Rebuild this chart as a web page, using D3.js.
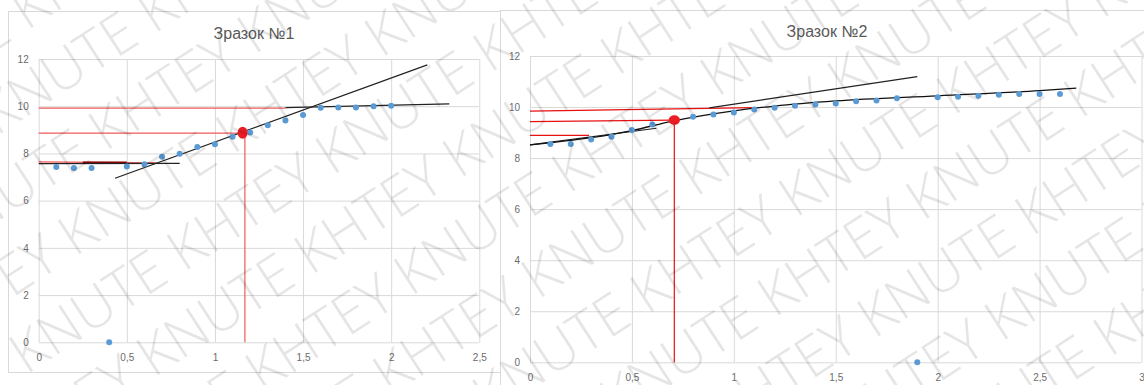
<!DOCTYPE html>
<html>
<head>
<meta charset="utf-8">
<script src="https://cdn.jsdelivr.net/npm/d3@7"></script>
<style>
  body { margin: 0; background: #fff; }
  svg { display: block; }
  .tick text { font-family: "Liberation Sans", Arial, sans-serif; font-size: 10px; fill: #6b6b6b; }
  .title { font-family: "Liberation Sans", Arial, sans-serif; font-size: 16px; fill: #595959; }
  .mark { font-family: "Open Sans", "Noto Sans", sans-serif; font-weight: 300; font-size: 56px; fill: #000; fill-opacity: 0.1; }
</style>
</head>
<body>
<div id="chart"></div>
<script>
// tick values
const xTicks1 = [0, 0.5, 1, 1.5, 2, 2.5]
const xTicks2 = [0, 0.5, 1, 1.5, 2, 2.5, 3]
const yTicks = [0, 2, 4, 6, 8, 10, 12]

// sample 1 measured points
const s1x = [0.1, 0.2, 0.3, 0.4, 0.5, 0.6, 0.7, 0.8, 0.9, 1.0, 1.1, 1.2, 1.3, 1.4, 1.5, 1.6, 1.7, 1.8, 1.9, 2.0]
const s1y = [7.43, 7.38, 7.38, 0, 7.45, 7.54, 7.86, 7.99, 8.27, 8.39, 8.71, 8.89, 9.19, 9.39, 9.63, 9.93, 9.95, 9.95, 10.0, 10.02]
// sample 1 construction lines [x1, y1, x2, y2]
const s1Red = [
  [0, 9.92, 1.4, 9.92],
  [0, 8.86, 1.157, 8.86],
  [0, 7.64, 0.67, 7.6],
  [1.17, 8.86, 1.17, 0]
]
const s1DarkRed = [[0.25, 7.62, 0.5, 7.62]]
const s1Black = [
  [0, 7.57, 0.8, 7.58],
  [0.433, 6.95, 2.205, 11.75],
  [1.4, 9.94, 2.33, 10.1]
]
const s1Point = [1.157, 8.88]

// sample 2 measured points
const s2x = [0.1, 0.2, 0.3, 0.4, 0.5, 0.6, 0.8, 0.9, 1.0, 1.1, 1.2, 1.3, 1.4, 1.5, 1.6, 1.7, 1.8, 1.9, 2.0, 2.1, 2.2, 2.3, 2.4, 2.5, 2.6]
const s2y = [8.55, 8.55, 8.73, 8.84, 9.1, 9.32, 9.62, 9.71, 9.79, 9.9, 9.97, 10.05, 10.1, 10.14, 10.23, 10.26, 10.34, 0, 10.38, 10.4, 10.44, 10.48, 10.51, 10.51, 10.51]
const s2Red = [
  [0, 9.84, 1.1, 9.98],
  [0, 9.43, 0.7, 9.49],
  [0, 8.89, 0.29, 8.89],
  [0.708, 9.49, 0.708, 0]
]
const s2Black = [
  [0, 8.52, 0.62, 9.17],
  [0.88, 9.97, 1.9, 11.19]
]
// hand-drawn smoothing curve of sample 2
const s2CurveX = [0, 0.3, 0.5, 0.7, 1.0, 1.2, 1.5, 2.0, 2.5, 2.68]
const s2CurveY = [8.52, 8.8, 9.08, 9.45, 9.85, 10.04, 10.24, 10.44, 10.64, 10.74]
const s2Point = [0.708, 9.49]

const width = 1144, height = 385
const fmt = v => String(v).replace('.', ',')

const svg = d3.select('#chart').append('svg')
  .attr('width', width).attr('height', height)

function drawChart(cfg) {
  const g = svg.append('g')

  g.append('rect')
    .attr('x', cfg.box[0] + 0.5).attr('y', cfg.box[1] + 0.5)
    .attr('width', cfg.box[2]).attr('height', cfg.box[3])
    .attr('fill', '#fff').attr('stroke', '#d9d9d9')

  g.append('text').attr('class', 'title')
    .attr('x', cfg.titleX).attr('y', cfg.titleY)
    .attr('text-anchor', 'middle')
    .text(cfg.title)

  const x = d3.scaleLinear().domain([0, d3.max(cfg.xTicks)]).range(cfg.xr)
  const y = d3.scaleLinear().domain([0, 12]).range(cfg.yr)

  const gy = g.append('g')
    .attr('transform', 'translate(' + cfg.xr[0] + ',0)')
    .call(d3.axisLeft(y).tickValues(yTicks).tickFormat(fmt)
      .tickSize(-(cfg.xr[1] - cfg.xr[0])).tickPadding(10))
  const gx = g.append('g')
    .attr('transform', 'translate(0,' + cfg.yr[0] + ')')
    .call(d3.axisBottom(x).tickValues(cfg.xTicks).tickFormat(fmt)
      .tickSize(-(cfg.yr[0] - cfg.yr[1])).tickPadding(11.5))
  ;[gx, gy].forEach(a => {
    a.select('.domain').remove()
    a.selectAll('.tick line').attr('stroke', '#d9d9d9')
  })

  const seg = (data, color, w) => g.append('g').selectAll('line').data(data).enter()
    .append('line')
    .attr('x1', d => x(d[0])).attr('y1', d => y(d[1]))
    .attr('x2', d => x(d[2])).attr('y2', d => y(d[3]))
    .attr('stroke', color).attr('stroke-width', w)

  seg(cfg.red, cfg.redColor, 1.2)
  if (cfg.darkRed) seg(cfg.darkRed, '#8b0000', 2)
  seg(cfg.black, '#222', 1.2)

  if (cfg.curveX) {
    g.append('path')
      .datum(d3.zip(cfg.curveX, cfg.curveY))
      .attr('d', d3.line().x(d => x(d[0])).y(d => y(d[1])).curve(d3.curveMonotoneX))
      .attr('fill', 'none').attr('stroke', '#111').attr('stroke-width', 1.3)
  }

  g.append('g').selectAll('circle').data(d3.zip(cfg.px, cfg.py)).enter()
    .append('circle')
    .attr('cx', d => x(d[0])).attr('cy', d => y(d[1]))
    .attr('r', 3)
    .attr('fill', '#5b9bd5')

  g.append('ellipse')
    .attr('cx', x(cfg.point[0])).attr('cy', y(cfg.point[1]))
    .attr('rx', cfg.pr[0]).attr('ry', cfg.pr[1])
    .attr('fill', '#ec1c24')
}

drawChart({
  box: [8, 11, 492, 361],
  title: 'Зразок №1', titleX: 254, titleY: 39,
  xTicks: xTicks1, xr: [38.7, 479.3], yr: [342.3, 59],
  px: s1x, py: s1y,
  red: s1Red, redColor: '#f05a5a', darkRed: s1DarkRed, black: s1Black,
  point: s1Point, pr: [5, 6]
})

drawChart({
  box: [500, 10, 680, 400],
  title: 'Зразок №2', titleX: 827, titleY: 37,
  xTicks: xTicks2, xr: [530, 1141.5], yr: [362.3, 56],
  px: s2x, py: s2y,
  red: s2Red, redColor: '#e81010', black: s2Black,
  curveX: s2CurveX, curveY: s2CurveY,
  point: s2Point, pr: [5.7, 4.8]
})

// diagonal watermark over both charts
const wm = svg.append('g')
  .attr('transform', 'translate(572,192) rotate(-33)')
  .style('pointer-events', 'none')
const words = d3.range(10).map((d, i) => i % 2 ? 'KNUTE' : 'KHTEY').join(' ')
wm.selectAll('text').data(d3.range(-7, 8)).enter()
  .append('text').attr('class', 'mark')
  .attr('x', d => -1100 + (d % 2 ? 105 : 0))
  .attr('y', d => d * 72)
  .text(words)
</script>
</body>
</html>
